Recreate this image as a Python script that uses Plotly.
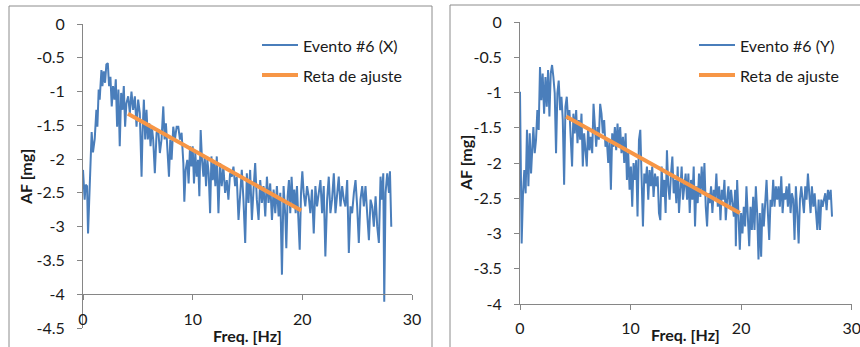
import plotly.graph_objects as go

W, H = 860, 347

# ---------------- data: panel X ----------------
freq_x = [
    0.00, 0.15, 0.24, 0.37, 0.46, 0.61, 0.70, 0.79, 0.91, 1.07,
    1.22, 1.31, 1.43, 1.52, 1.68, 1.77, 1.89, 2.01, 2.13, 2.26,
    2.38, 2.50, 2.62, 2.74, 2.87, 2.99, 3.11, 3.23, 3.35, 3.48,
    3.60, 3.72, 3.84, 3.96, 4.12, 4.27, 4.42, 4.57, 4.73, 4.88,
    5.03, 5.18, 5.34, 5.43, 5.55, 5.67, 5.79, 5.91, 6.04, 6.16,
    6.28, 6.40, 6.55, 6.71, 6.86, 7.01, 7.16, 7.32, 7.44, 7.56,
    7.68, 7.84, 7.96, 8.08, 8.23, 8.38, 8.54, 8.69, 8.84, 8.99,
    9.15, 9.24, 9.36, 9.51, 9.63, 9.76, 9.88, 10.00, 10.12, 10.24,
    10.37, 10.49, 10.61, 10.73, 10.85, 10.98, 11.10, 11.22, 11.34, 11.46,
    11.59, 11.71, 11.83, 11.95, 12.07, 12.20, 12.35, 12.50, 12.65, 12.80,
    12.96, 13.11, 13.26, 13.41, 13.57, 13.72, 13.87, 14.02, 14.18, 14.33,
    14.48, 14.63, 14.79, 14.94, 15.09, 15.24, 15.40, 15.55, 15.70, 15.85,
    16.01, 16.16, 16.31, 16.46, 16.62, 16.77, 16.92, 17.07, 17.23, 17.38,
    17.53, 17.68, 17.84, 17.99, 18.14, 18.29, 18.45, 18.54, 18.66, 18.78,
    18.90, 19.02, 19.15, 19.27, 19.39, 19.51, 19.66, 19.76, 19.88, 20.00,
    20.12, 20.27, 20.43, 20.58, 20.73, 20.88, 21.04, 21.19, 21.34, 21.49,
    21.65, 21.80, 21.95, 22.10, 22.26, 22.41, 22.56, 22.71, 22.87, 23.02,
    23.17, 23.32, 23.48, 23.63, 23.78, 23.93, 24.09, 24.24, 24.39, 24.54,
    24.70, 24.85, 25.00, 25.15, 25.30, 25.46, 25.61, 25.76, 25.91, 26.07,
    26.22, 26.37, 26.52, 26.68, 26.83, 26.98, 27.13, 27.26, 27.38, 27.47,
    27.59, 27.74, 27.90, 27.99, 28.11,
]
af_x = [
    -2.16, -2.60, -2.38, -2.40, -3.10, -2.55, -2.00, -1.60, -1.90, -1.70,
    -1.27, -1.52, -0.97, -1.12, -0.68, -0.92, -0.70, -0.87, -0.60, -0.58,
    -0.92, -0.78, -1.22, -0.92, -1.12, -0.82, -1.52, -0.97, -1.81, -1.02,
    -1.27, -0.92, -1.52, -1.17, -1.07, -1.32, -1.00, -1.27, -1.07, -1.52,
    -1.12, -1.32, -2.26, -1.61, -1.12, -1.71, -1.27, -1.71, -1.47, -1.81,
    -1.52, -1.71, -2.21, -1.61, -1.56, -1.91, -1.71, -1.22, -1.71, -1.47,
    -1.86, -2.26, -1.71, -2.01, -1.52, -1.71, -1.52, -1.52, -1.71, -1.61,
    -2.06, -2.63, -2.16, -2.01, -2.36, -1.81, -2.11, -1.81, -2.36, -1.91,
    -2.26, -2.01, -2.55, -1.57, -2.01, -2.26, -1.96, -2.40, -2.01, -2.21,
    -2.80, -1.96, -2.31, -2.06, -2.40, -1.96, -2.80, -2.06, -2.40, -2.11,
    -2.50, -2.31, -2.60, -2.21, -2.26, -2.11, -2.40, -2.26, -2.90, -2.45,
    -2.16, -2.60, -3.24, -2.21, -2.65, -2.16, -2.90, -2.45, -2.06, -2.60,
    -2.90, -2.31, -2.65, -2.40, -2.85, -2.26, -2.65, -2.36, -2.90, -2.45,
    -2.80, -2.40, -2.85, -2.50, -3.71, -2.40, -2.85, -3.32, -2.55, -2.31,
    -2.80, -2.26, -2.70, -2.45, -2.80, -2.40, -2.85, -3.34, -2.50, -2.18,
    -2.50, -2.70, -2.40, -2.55, -2.80, -2.45, -3.10, -2.40, -2.70, -2.50,
    -2.31, -2.80, -2.40, -3.44, -2.60, -2.26, -2.80, -2.60, -2.21, -2.80,
    -2.50, -2.26, -2.70, -2.40, -2.60, -2.70, -2.31, -3.39, -2.70, -2.80,
    -2.50, -2.31, -2.70, -3.24, -2.60, -2.40, -2.70, -2.40, -2.80, -3.20,
    -2.60, -2.70, -3.00, -2.55, -3.00, -3.24, -2.26, -2.60, -2.21, -4.11,
    -2.50, -2.21, -2.50, -2.18, -3.00,
]
fit_x_freq = [4.10, 19.90]
fit_x_af = [-1.33, -2.76]

# ---------------- data: panel Y ----------------
freq_y = [
    0.00, 0.06, 0.15, 0.27, 0.39, 0.51, 0.63, 0.76, 0.88, 1.00,
    1.09, 1.21, 1.33, 1.45, 1.57, 1.69, 1.81, 1.93, 2.05, 2.18,
    2.30, 2.42, 2.54, 2.66, 2.78, 2.90, 3.02, 3.14, 3.26, 3.38,
    3.50, 3.63, 3.75, 3.87, 3.99, 4.11, 4.23, 4.35, 4.47, 4.59,
    4.71, 4.83, 4.95, 5.08, 5.20, 5.32, 5.44, 5.56, 5.68, 5.80,
    5.92, 6.04, 6.16, 6.28, 6.40, 6.53, 6.65, 6.77, 6.89, 7.01,
    7.13, 7.25, 7.37, 7.49, 7.61, 7.73, 7.85, 7.98, 8.10, 8.22,
    8.34, 8.46, 8.58, 8.70, 8.82, 8.94, 9.06, 9.18, 9.31, 9.43,
    9.55, 9.67, 9.79, 9.91, 10.03, 10.15, 10.27, 10.39, 10.51, 10.63,
    10.76, 10.88, 11.00, 11.12, 11.24, 11.36, 11.48, 11.60, 11.72, 11.84,
    11.96, 12.08, 12.21, 12.33, 12.45, 12.57, 12.69, 12.81, 12.93, 13.05,
    13.17, 13.29, 13.41, 13.53, 13.66, 13.78, 13.90, 14.02, 14.14, 14.26,
    14.38, 14.50, 14.62, 14.74, 14.86, 14.98, 15.11, 15.23, 15.35, 15.47,
    15.59, 15.71, 15.83, 15.95, 16.07, 16.19, 16.31, 16.43, 16.56, 16.68,
    16.80, 16.92, 17.04, 17.16, 17.28, 17.40, 17.52, 17.64, 17.76, 17.89,
    18.01, 18.13, 18.25, 18.37, 18.49, 18.61, 18.73, 18.85, 18.97, 19.09,
    19.21, 19.34, 19.46, 19.52, 19.64, 19.76, 19.88, 20.00, 20.12, 20.24,
    20.36, 20.48, 20.60, 20.73, 20.85, 20.97, 21.09, 21.21, 21.33, 21.45,
    21.57, 21.69, 21.81, 21.93, 22.05, 22.18, 22.30, 22.42, 22.54, 22.66,
    22.78, 22.90, 23.02, 23.14, 23.26, 23.38, 23.50, 23.63, 23.75, 23.87,
    23.99, 24.11, 24.23, 24.35, 24.47, 24.59, 24.71, 24.83, 24.95, 25.08,
    25.20, 25.32, 25.44, 25.56, 25.68, 25.80, 25.92, 26.04, 26.16, 26.28,
    26.40, 26.53, 26.65, 26.77, 26.89, 27.01, 27.13, 27.25, 27.37, 27.49,
    27.61, 27.73, 27.85, 27.98, 28.10, 28.22,
]
af_y = [
    -0.99, -2.05, -3.14, -2.43, -2.10, -2.43, -1.53, -2.33, -1.58, -2.15,
    -1.77, -1.49, -1.86, -1.67, -1.25, -1.53, -0.64, -1.11, -0.73, -1.30,
    -0.78, -1.20, -0.68, -1.34, -0.73, -0.61, -0.78, -1.01, -1.86, -1.01,
    -0.83, -1.25, -1.06, -1.39, -2.31, -1.20, -1.06, -1.39, -1.25, -1.67,
    -2.05, -1.30, -1.58, -1.25, -1.72, -1.39, -1.67, -1.30, -2.05, -1.58,
    -1.77, -2.05, -1.49, -1.82, -1.63, -1.86, -1.16, -1.58, -1.77, -1.49,
    -1.67, -1.16, -1.30, -1.58, -1.39, -1.77, -1.67, -2.00, -1.67, -2.38,
    -1.58, -1.77, -1.49, -1.82, -1.44, -1.77, -1.49, -1.86, -1.63, -2.00,
    -1.58, -2.24, -1.86, -2.38, -2.05, -2.62, -2.00, -2.24, -1.96, -2.76,
    -1.67, -1.53, -2.38, -2.90, -2.15, -2.29, -2.05, -2.52, -2.10, -2.33,
    -2.05, -2.48, -2.15, -2.33, -2.19, -2.71, -2.81, -2.05, -2.48, -2.24,
    -2.71, -1.82, -2.33, -2.52, -2.15, -1.91, -2.43, -2.24, -2.57, -2.05,
    -2.71, -2.33, -2.05, -2.52, -2.33, -2.15, -2.52, -2.15, -2.71, -2.24,
    -2.52, -2.05, -2.90, -2.33, -2.57, -2.15, -2.48, -2.05, -2.43, -2.00,
    -2.62, -2.90, -2.43, -2.57, -2.33, -2.71, -2.38, -2.52, -2.15, -2.62,
    -2.33, -2.81, -2.38, -2.52, -2.24, -2.81, -2.52, -2.33, -2.62, -2.38,
    -2.57, -2.76, -2.38, -3.18, -2.24, -2.90, -3.23, -2.71, -3.00, -2.62,
    -2.90, -2.33, -2.81, -3.18, -2.62, -2.95, -2.48, -2.95, -2.33, -2.71,
    -3.37, -2.71, -3.33, -2.57, -2.90, -2.52, -2.24, -2.71, -3.09, -2.52,
    -2.62, -2.24, -2.62, -2.33, -2.52, -2.33, -2.62, -2.19, -2.71, -2.43,
    -2.52, -2.33, -2.62, -2.29, -2.71, -2.43, -2.52, -3.09, -2.33, -2.71,
    -3.14, -2.52, -2.33, -2.52, -2.71, -2.33, -2.52, -2.15, -2.43, -2.71,
    -2.33, -2.62, -2.43, -2.71, -2.95, -2.52, -2.95, -2.52, -2.62, -2.52,
    -2.43, -2.67, -2.38, -2.52, -2.38, -2.76,
]
fit_y_freq = [4.17, 19.88]
fit_y_af = [-1.34, -2.71]

# ---------------- tick labels / texts ----------------
x_ticks = [0, 10, 20, 30]
x_ticktext = ["0", "10", "20", "30"]
y_ticks_left = [0, -0.5, -1, -1.5, -2, -2.5, -3, -3.5, -4, -4.5]
y_ticktext_left = ["0", "-0.5", "-1", "-1.5", "-2", "-2.5", "-3", "-3.5", "-4", "-4.5"]
y_ticks_right = [0, -0.5, -1, -1.5, -2, -2.5, -3, -3.5, -4]
y_ticktext_right = ["0", "-0.5", "-1", "-1.5", "-2", "-2.5", "-3", "-3.5", "-4"]
legend_names_left = ["Evento #6 (X)", "Reta de ajuste"]
legend_names_right = ["Evento #6 (Y)", "Reta de ajuste"]
x_title = "Freq. [Hz]"
y_title = "AF [mg]"

BLUE = "#4A7EBB"
ORANGE = "#F79646"
AXIS = "#868686"
TXT = "#1a1a1a"
FONT = "Lato"
FS = 16

def px(x):
    return x / W

def py(y):
    return 1 - y / H

fig = go.Figure()
fig.add_trace(go.Scatter(x=freq_x, y=af_x, mode="lines", line=dict(color=BLUE, width=2),
                         xaxis="x", yaxis="y", showlegend=False))
fig.add_trace(go.Scatter(x=fit_x_freq, y=fit_x_af, mode="lines", line=dict(color=ORANGE, width=4),
                         xaxis="x", yaxis="y", showlegend=False))
fig.add_trace(go.Scatter(x=freq_y, y=af_y, mode="lines", line=dict(color=BLUE, width=2),
                         xaxis="x2", yaxis="y2", showlegend=False))
fig.add_trace(go.Scatter(x=fit_y_freq, y=fit_y_af, mode="lines", line=dict(color=ORANGE, width=4),
                         xaxis="x2", yaxis="y2", showlegend=False))

tickfont = dict(family=FONT, size=FS, color=TXT)
common_x = dict(range=[0, 30], tickvals=x_ticks, ticktext=x_ticktext, showgrid=False, zeroline=False,
                showline=True, linecolor=AXIS, linewidth=1, ticks="outside", ticklen=5, tickcolor=AXIS,
                tickfont=tickfont, automargin=False, ticklabelstandoff=5, ticklabeloverflow="allow")
common_y = dict(showgrid=False, zeroline=False, showline=True, linecolor=AXIS, linewidth=1,
                ticks="outside", ticklen=5, tickcolor=AXIS, tickfont=tickfont, automargin=False,
                ticklabelstandoff=9)

# left panel geometry (pixels)
L_x0, L_x1 = 83, 412
L_ytop, L_ybot = 24, 328
L_axis_y = 294.3
# right panel geometry
R_x0, R_x1 = 520, 851.7
R_ytop, R_ybot = 22, 304

fig.update_layout(
    width=W, height=H, margin=dict(l=0, r=0, t=0, b=0),
    paper_bgcolor="white", plot_bgcolor="rgba(0,0,0,0)",
    font=dict(family=FONT, color=TXT),
    showlegend=False,
    xaxis=dict(domain=[px(L_x0), px(L_x1)], anchor="free", position=py(L_axis_y), **common_x),
    yaxis=dict(domain=[py(L_ybot), py(L_ytop)], range=[-4.5, 0], tickvals=y_ticks_left,
               ticktext=y_ticktext_left, anchor="x", **common_y),
    xaxis2=dict(domain=[px(R_x0), px(R_x1)], anchor="y2", **common_x),
    yaxis2=dict(domain=[py(R_ybot), py(R_ytop)], range=[-4, 0], tickvals=y_ticks_right,
                ticktext=y_ticktext_right, anchor="x2", **common_y),
)

shapes = []
# panel frames
shapes.append(dict(type="rect", xref="paper", yref="paper", x0=px(9), x1=px(432), y0=py(360), y1=py(6),
                   line=dict(color="#8c8c8c", width=1), fillcolor="rgba(0,0,0,0)", layer="below"))
shapes.append(dict(type="rect", xref="paper", yref="paper", x0=px(450), x1=px(880), y0=py(360), y1=py(5),
                   line=dict(color="#8c8c8c", width=1), fillcolor="rgba(0,0,0,0)", layer="below"))

annotations = []
def legend(x_line0, x_line1, x_text, names):
    for i, (name, col, wd) in enumerate(zip(names, [BLUE, ORANGE], [2, 4])):
        yy = 45 + 30 * i
        shapes.append(dict(type="line", xref="paper", yref="paper", x0=px(x_line0), x1=px(x_line1),
                           y0=py(yy), y1=py(yy), line=dict(color=col, width=wd)))
        annotations.append(dict(xref="paper", yref="paper", x=px(x_text), y=py(yy), text=name,
                                showarrow=False, xanchor="left", yanchor="middle",
                                font=dict(family=FONT, size=FS, color=TXT)))

legend(262, 298, 301, legend_names_left)
legend(699, 735, 738, legend_names_right)

for (xc, yc) in [(247, 335), (685, 334)]:
    annotations.append(dict(xref="paper", yref="paper", x=px(xc), y=py(yc), text="<b>%s</b>" % x_title,
                            showarrow=False, xanchor="center", yanchor="middle",
                            font=dict(family=FONT, size=FS, color=TXT)))
for (xc, yc) in [(26, 177), (465, 163)]:
    annotations.append(dict(xref="paper", yref="paper", x=px(xc), y=py(yc), text="<b>%s</b>" % y_title,
                            showarrow=False, xanchor="center", yanchor="middle", textangle=-90,
                            font=dict(family=FONT, size=FS, color=TXT)))

fig.update_layout(shapes=shapes, annotations=annotations)
fig.write_html("out.html", config={"displayModeBar": False},
               post_script="document.body.style.margin='0';document.body.style.overflow='hidden';")
